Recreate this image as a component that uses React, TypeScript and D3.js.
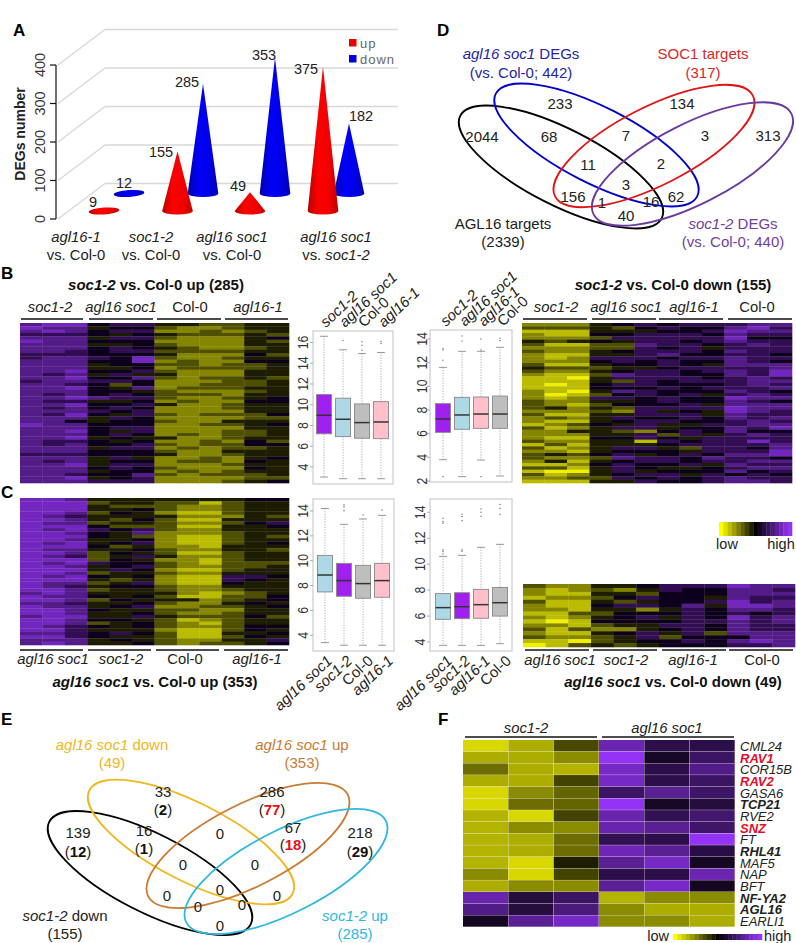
import React from "react";
import * as d3 from "d3";

// ---------- Panel A data
const degCategories = ["agl16-1", "soc1-2", "agl16 soc1", "agl16 soc1"];
const degUp = [9, 155, 49, 375];
const degDown = [12, 285, 353, 182];
const degAxisTicks = [0, 100, 200, 300, 400];

// ---------- Boxplot data: [low whisker, q1, median, q3, high whisker]
const box1Names = ["soc1-2", "agl16 soc1", "Col-0", "agl16-1"];
const box1Stats = [[3.03, 7.2, 8.99, 10.98, 16.6], [2.87, 6.93, 8.6, 10.63, 15.3], [2.87, 6.77, 8.28, 10.08, 14.94], [2.87, 6.73, 8.34, 10.3, 15.04]];
const box1Out = [[], [16.2], [16.07, 15.74, 15.26], [16.1, 15.9]];
const box1Ticks = [4, 6, 8, 10, 12, 14, 16];

const box2Names = ["soc1-2", "agl16 soc1", "agl16-1", "Col-0"];
const box2Stats = [[3.8, 6.11, 7.24, 8.54, 11.6], [2.37, 6.37, 7.58, 9.07, 12.96], [3.77, 6.45, 7.66, 9.1, 12.96], [2.42, 6.45, 7.66, 9.18, 13.3]];
const box2Out = [[13.2, 13.07, 12.2, 2.37], [14.25, 13.83], [14, 13.07, 2.37], [14.06, 13.86]];
const box2Ticks = [2, 4, 6, 8, 10, 12, 14];

const box3Names = ["agl16 soc1", "soc1-2", "Col-0", "agl16-1"];
const box3Stats = [[3.41, 7.49, 8.85, 10.43, 14.2], [3.2, 7.14, 8.4, 9.79, 12.93], [3.2, 6.98, 8.16, 9.63, 13.36], [3.2, 7.06, 8.4, 9.79, 13.65]];
const box3Out = [[], [14.5, 14.35, 14.03], [13.68], [14.08]];
const box3Ticks = [4, 6, 8, 10, 12, 14];

const box4Names = ["agl16 soc1", "soc1-2", "agl16-1", "Col-0"];
const box4Stats = [[3.74, 5.75, 6.65, 7.73, 10.6], [3.74, 5.8, 6.72, 7.8, 10.68], [3.74, 5.83, 6.88, 8.06, 11.3], [3.87, 6, 7.03, 8.2, 11.53]];
const box4Out = [[13.54, 13.28, 13.15, 11.1, 10.97, 10.79], [13.85, 13.67, 13.36, 11.1, 11], [14.26, 14, 13.7], [14.6, 14.3, 13.85]];
const box4Ticks = [4, 6, 8, 10, 12, 14];

// ---------- Heatmaps: each digit is one cell, 0 = low (yellow), 9 = high (purple)
const heatBUp = [
  "788566443344", "877455322344", "787566223234", "666545433343", "777466322245", "877555222243",
  "777445322244", "777565432234", "776566333344", "666555422253", "677658322344", "777558232255",
  "777455332334", "777445233334", "778556322244", "767464422244", "778557323343", "677665222334",
  "776535223334", "778547233344", "777554322234", "767565333244", "778766322345", "766445232255",
  "778556422344", "767565222344", "777656222244", "768546323335", "777465222233", "775455322444",
  "877555223345", "777566222244", "778546222334", "777565232334", "778454422344", "766545223253",
  "767556323355", "777466232334", "777555322444", "666555422344", "777464223245", "767455233254",
  "778466222344", "777565322254", "777455232344", "776557323334", "778456222233", "777666222345"
];
const heatBDown = [
  "222456566677", "333435655786", "111444556877", "211556665766", "222366666855", "434546656766",
  "311337665676", "222336564666", "322456665766", "211446755665", "212666566766", "222565655765",
  "311455654777", "433344566667", "322456656768", "211376655768", "110466665676", "111436566677",
  "101566555676", "111555656667", "210476555765", "201356564676", "212665655877", "322445655765",
  "321355564777", "342436666877", "222326454876", "311446664766", "232465565767", "211456655676",
  "123546446677", "312466455768", "224432565755", "222446364676", "211556546666", "322441656686",
  "131444566667", "312466436657", "221455546668", "343564565778", "322376657665", "241456656677",
  "112565564766", "331465445677", "100464555756", "312456646565", "223365656766", "111446556776"
];
const heatCUp = [
  "887444444455", "888344331344", "888433322344", "888445322344", "887354211344", "876444422243",
  "887435311444", "877344322356", "888533311445", "878656322444", "887547222344", "888543211343",
  "887445211344", "878456211345", "888534221444", "877445322443", "887354311344", "876346422344",
  "888354221344", "878655321333", "887456322334", "888465211344", "887344322444", "878545211665",
  "888434211654", "877346211544", "876455322444", "887344322344", "787444421234", "877545311335",
  "887354442345", "776445322454", "877456223345", "887544332244", "887445322344", "788446433353",
  "887554312344", "887345321344", "876545322355", "886444211354", "776565311445", "886544311354",
  "777454322446", "787445323345"
];
const heatCDown = [
  "322445666877", "212324655776", "211443555777", "122356554766", "311434556867", "211566574887",
  "221442465776", "113355565656", "212456465867", "101555566767", "221344665766", "313224565766",
  "211456463777", "322346355577", "110345565787", "013434555667"
];

// ---------- Panel F data
const fGenes = ["CML24", "RAV1", "COR15B", "RAV2", "GASA6", "TCP21", "RVE2", "SNZ", "FT", "RHL41", "MAF5", "NAP", "BFT", "NF-YA2", "AGL16", "EARLI1"];
const fRed = ["RAV1", "RAV2", "SNZ"];
const fBold = ["TCP21", "RHL41", "NF-YA2", "AGL16"];
const fValues = [
  [-.9, -.72, -.3, .72, .3, .3], [-.72, -.72, -.58, 1, .15, .4], [-.45, -.72, -.75, .8, .3, .55], [-.72, -.72, -.28, .8, .3, .4],
  [-.9, -.58, -.42, .4, .6, .42], [-.9, -.45, -.42, 1, .15, .25], [-.75, -.9, -.28, .7, .33, .45], [-.75, -.58, -.58, .7, .6, .42],
  [-.75, -.72, -.45, .33, .3, 1], [-.75, -.72, -.45, .75, .6, .28], [-.75, -.9, -.12, .6, .8, .15], [-.58, -.9, -.28, .3, .3, .72],
  [-.72, -.58, -.58, .6, .8, .14], [.7, .25, .4, -.75, -.58, -.58], [.55, .25, .5, -.58, -.72, -.72], [.14, .6, .8, -.58, -.58, -.72]
];

// ---------- Venn data
const vennDCounts = ["2044", "233", "68", "134", "7", "3", "313", "11", "2", "3", "156", "1", "16", "62", "40"];
const vennDPos = [[482, 137], [560, 104], [549, 137], [682, 104], [626, 136], [705, 136], [768, 136], [588, 165], [661, 164], [626, 185], [573, 197], [602, 203], [651, 202], [676, 197], [626, 216]];
const vennEPairs = [["139", "12", false], ["33", "2", false], ["16", "1", false], ["286", "77", true], ["67", "18", true], ["218", "29", false]];
const vennEPairPos = [[78, 833, 852], [163, 792, 810], [144, 831, 849], [272, 792, 810], [293, 828, 845], [360, 833, 852]];
const vennEZeros = [0, 0, 0, 0, 0, 0, 0, 0, 0];
const vennEZeroPos = [[220, 834], [183, 865], [255, 865], [220, 890], [167, 896], [277, 896], [198, 907], [242, 905], [220, 926]];

const FONT = "'Liberation Sans', Arial, sans-serif";
const BOXFILL: Record<string, string> = { "soc1-2": "#a020f0", "agl16 soc1": "#add8e6", "Col-0": "#bebebe", "agl16-1": "#ffc0cb" };

const heatColor = d3.scaleLinear<string>().domain([-1, 0, 1]).range(["#f0f000", "#000000", "#9433f5"]);
const barColor = d3.scaleLinear<string>().domain([-1, 0, 1]).range(["#ffff00", "#000000", "#9433f5"]);

function Heat({ rows, x0, x1, y0, y1 }: { rows: string[]; x0: number; x1: number; y0: number; y1: number }) {
  const cx = d3.scaleBand<number>().domain(d3.range(12)).range([x0, x1]);
  const cy = d3.scaleBand<number>().domain(d3.range(rows.length)).range([y0, y1]);
  return (
    <g filter="url(#soft)">
      {rows.map((r, i) =>
        r.split("").map((c, j) => (
          <rect key={i + "-" + j} x={cx(j)} y={cy(i)} width={cx.bandwidth() + 0.3} height={cy.bandwidth() + 0.3} fill={heatColor((+c - 4.5) / 4.5)} />
        ))
      )}
    </g>
  );
}

function T({ x, y, children, size = 15, anchor = "middle", color = "#222", weight, italic, rot }: any) {
  return (
    <text x={x} y={y} fontSize={size} textAnchor={anchor} fill={color} fontWeight={weight} fontStyle={italic ? "italic" : undefined}
      transform={rot ? `rotate(${rot} ${x} ${y})` : undefined} dominantBaseline="alphabetic">
      {children}
    </text>
  );
}

function Groups({ labels, spans, lineY, textY, centers }: { labels: string[]; spans: number[][]; lineY: number; textY: number; centers: number[] }) {
  return (
    <g>
      {labels.map((l, i) => (
        <g key={i}>
          <line x1={spans[i][0]} x2={spans[i][1]} y1={lineY} y2={lineY} stroke="#111" strokeWidth={1.6} />
          <T x={centers[i]} y={textY} size={14.8} italic={l !== "Col-0"}>{l}</T>
        </g>
      ))}
    </g>
  );
}

function Box({ names, stats, out, ticks, frame, domain, range, xs, tickX, labelPts, top }: any) {
  const y = d3.scaleLinear().domain(domain).range(range);
  return (
    <g>
      <rect x={frame[0]} y={frame[1]} width={frame[2] - frame[0]} height={frame[3] - frame[1]} fill="none" stroke="#c8ccd0" strokeWidth={1.2} />
      {ticks.map((t: number) => (
        <g key={t}>
          <line x1={frame[0] - 3} x2={frame[0]} y1={y(t)} y2={y(t)} stroke="#aaa" />
          <g transform={`translate(${tickX + 5},${y(t)}) rotate(-90) scale(0.82,1)`}>
            <text x={0} y={0} fontSize={15} textAnchor="middle" fill="#333">{t}</text>
          </g>
        </g>
      ))}
      {stats.map((s: number[], i: number) => {
        const x = xs[i];
        return (
          <g key={i}>
            <line x1={x} x2={x} y1={y(s[4])} y2={y(s[3])} stroke="#999" strokeDasharray="1.2 1.4" strokeWidth={0.8} />
            <line x1={x} x2={x} y1={y(s[1])} y2={y(s[0])} stroke="#999" strokeDasharray="1.2 1.4" strokeWidth={0.8} />
            <line x1={x - 4} x2={x + 4} y1={y(s[4])} y2={y(s[4])} stroke="#999" />
            <line x1={x - 4} x2={x + 4} y1={y(s[0])} y2={y(s[0])} stroke="#999" />
            <rect x={x - 7.5} y={y(s[3])} width={15} height={y(s[1]) - y(s[3])} fill={BOXFILL[names[i]]} stroke="#888" strokeWidth={0.9} />
            <line x1={x - 7.5} x2={x + 7.5} y1={y(s[2])} y2={y(s[2])} stroke="#333" strokeWidth={1.5} />
            {out[i].map((o: number, k: number) => <circle key={k} cx={x} cy={y(o)} r={0.8} fill="#888" />)}
          </g>
        );
      })}
      {names.map((n: string, i: number) => (
        <T key={n} x={labelPts[i][0]} y={labelPts[i][1]} size={15} anchor={top ? "start" : "end"} rot={-43} italic={n !== "Col-0"}>{n}</T>
      ))}
    </g>
  );
}

function PanelA() {
  const y = d3.scaleLinear().domain([0, 400]).range([219, 65]);
  const h = (v: number) => y(0) - y(v);
  const rx = 15.3, ry = 3.4;
  const catCx = [76, 151, 232, 336];
  const upCx = [104, 177.5, 250, 323];
  const downCx = [129, 203, 275, 349];
  const cone = (cx: number, base: number, v: number, grad: string, key: string, flat: boolean) =>
    flat ? (
      <ellipse key={key} cx={cx} cy={base} rx={rx} ry={ry} fill={grad} transform={`rotate(-4 ${cx} ${base})`} />
    ) : (
      <path key={key} fill={grad}
        d={`M${cx - rx},${base} A${rx},${ry} 0 0 0 ${cx + rx},${base} L${cx},${base - h(v)} Z`} />
    );
  const upBase = 211, downBase = 193.5;
  return (
    <g>
      {degAxisTicks.map((t) => (
        <g key={t}>
          <line x1={58} y1={y(t)} x2={105} y2={y(t) - 35.5} stroke="#d8d8d8" strokeWidth={1.4} />
          <line x1={105} y1={y(t) - 35.5} x2={398} y2={y(t) - 35.5} stroke="#d8d8d8" strokeWidth={1.4} />
          <line x1={50} x2={56} y1={y(t)} y2={y(t)} stroke="#111" strokeWidth={1.2} />
          <g transform={`translate(45,${y(t)}) rotate(-90)`}>
            <text fontSize={14.5} textAnchor="middle" fill="#333">{t}</text>
          </g>
        </g>
      ))}
      <line x1={56} x2={56} y1={65} y2={219} stroke="#111" strokeWidth={1.2} />
      <g transform="translate(25,134) rotate(-90)">
        <text fontSize={14} fontWeight="bold" textAnchor="middle" fill="#222">DEGs number</text>
      </g>
      {degDown.map((v, i) => cone(downCx[i], downBase, v, "url(#blueG)", "d" + i, v < 20))}
      {degUp.map((v, i) => cone(upCx[i], upBase, v, "url(#redG)", "u" + i, v < 20))}
      {degUp.map((v, i) => {
        const lp = [[93, 207], [161, 157], [238, 191], [306, 74]][i];
        return <T key={i} x={lp[0]} y={lp[1]} size={14.5}>{v}</T>;
      })}
      {degDown.map((v, i) => {
        const lp = [[124, 188], [187, 87], [264, 60], [361, 121]][i];
        return <T key={i} x={lp[0]} y={lp[1]} size={14.5}>{v}</T>;
      })}
      {degCategories.map((c, i) => (
        <g key={i}>
          <T x={catCx[i]} y={242} size={14.8} italic>{c}</T>
          {i < 3 ? <T x={catCx[i]} y={260} size={14.8}>vs. Col-0</T> : (
            <text x={catCx[i]} y={260} fontSize={14.8} textAnchor="middle" fill="#222">vs. <tspan fontStyle="italic">soc1-2</tspan></text>
          )}
        </g>
      ))}
      <rect x={349} y={39} width={7.5} height={7.5} fill="#ee0000" />
      <rect x={349} y={55} width={7.5} height={7.5} fill="#0000dd" />
      <T x={360} y={48} size={13} anchor="start" color="#666"><tspan letterSpacing={1}>up</tspan></T>
      <T x={360} y={64} size={13} anchor="start" color="#666"><tspan letterSpacing={1}>down</tspan></T>
    </g>
  );
}

const Ell = ({ cx, cy, a, b, rot, color }: any) => (
  <ellipse cx={cx} cy={cy} rx={a} ry={b} transform={`rotate(${rot} ${cx} ${cy})`} fill="none" stroke={color} strokeWidth={1.8} />
);

function PanelD() {
  const blue = "#2525a5", red = "#d42828", purple = "#6f3f9f";
  return (
    <g>
      <Ell cx={561} cy={167} a={113} b={38} rot={27} color="#000" />
      <Ell cx={596.5} cy={145} a={113} b={38} rot={27} color="#0000cc" />
      <Ell cx={654} cy={146} a={111} b={39} rot={-27} color="#e01515" />
      <Ell cx={692.5} cy={164} a={111} b={40} rot={-27} color="#6a3a9c" />
      {vennDCounts.map((c, i) => <T key={i} x={vennDPos[i][0]} y={vennDPos[i][1] + 5}>{c}</T>)}
      <text x={521} y={59} fontSize={15} textAnchor="middle" fill={blue}><tspan fontStyle="italic">agl16 soc1</tspan> DEGs</text>
      <T x={521} y={78} color={blue}>(vs. Col-0; 442)</T>
      <T x={703} y={59} color={red}>SOC1 targets</T>
      <T x={703} y={78} color={red}>(317)</T>
      <T x={503} y={229}>AGL16 targets</T>
      <T x={503} y={247}>(2339)</T>
      <text x={733} y={229} fontSize={15} textAnchor="middle" fill={purple}><tspan fontStyle="italic">soc1-2</tspan> DEGs</text>
      <T x={733} y={247} color={purple}>(vs. Col-0; 440)</T>
    </g>
  );
}

function PanelE() {
  const yellow = "#efb71e", orange = "#c97c32", cyan = "#2fb8de";
  return (
    <g>
      <Ell cx={150} cy={873} a={113} b={39} rot={27} color="#000" />
      <Ell cx={191} cy={842} a={114} b={39} rot={27} color={yellow} />
      <Ell cx={248} cy={845.5} a={112} b={41} rot={-27} color={orange} />
      <Ell cx={286} cy={871.5} a={112} b={41} rot={-27} color={cyan} />
      {vennEPairs.map((p, i) => {
        const pos = vennEPairPos[i];
        return (
          <g key={i}>
            <T x={pos[0]} y={pos[1] + 5}>{p[0]}</T>
            <text x={pos[0]} y={pos[2] + 5} fontSize={15} textAnchor="middle" fill="#222">
              (<tspan fontWeight="bold" fill={p[2] ? "#e01020" : "#111"}>{p[1]}</tspan>)
            </text>
          </g>
        );
      })}
      {vennEZeros.map((z, i) => <T key={i} x={vennEZeroPos[i][0]} y={vennEZeroPos[i][1] + 5}>{z}</T>)}
      <text x={112} y={750} fontSize={15} textAnchor="middle" fill={yellow}><tspan fontStyle="italic">agl16 soc1</tspan> down</text>
      <T x={112} y={768} color={yellow}>(49)</T>
      <text x={302} y={750} fontSize={15} textAnchor="middle" fill={orange}><tspan fontStyle="italic">agl16 soc1</tspan> up</text>
      <T x={302} y={768} color={orange}>(353)</T>
      <text x={65} y={921} fontSize={15} textAnchor="middle" fill="#222"><tspan fontStyle="italic">soc1-2</tspan> down</text>
      <T x={65} y={939}>(155)</T>
      <text x={355} y={921} fontSize={15} textAnchor="middle" fill={cyan}><tspan fontStyle="italic">soc1-2</tspan> up</text>
      <T x={355} y={939} color={cyan}>(285)</T>
    </g>
  );
}

function PanelF() {
  const cx = d3.scaleBand<number>().domain(d3.range(6)).range([463, 735]);
  const cy = d3.scaleBand<number>().domain(d3.range(fGenes.length)).range([740, 927]);
  const stops = d3.range(-1, 1.001, 0.1);
  const barX = d3.scaleBand<number>().domain(stops).range([673, 762]);
  return (
    <g>
      <Groups labels={["soc1-2", "agl16 soc1"]} spans={[[465, 597], [602, 734]]} lineY={737} textY={733} centers={[526, 667]} />
      {fValues.map((row, i) => row.map((v, j) => (
        <rect key={i + "-" + j} x={cx(j)} y={cy(i)} width={cx.bandwidth() - 0.3} height={cy.bandwidth() - 0.3} fill={heatColor(v)} />
      )))}
      {fGenes.map((g, i) => {
        const red = fRed.includes(g);
        const bold = red || fBold.includes(g);
        return <T key={g} x={740} y={cy(i)! + cy.bandwidth() / 2 + 5} size={13} anchor="start" italic weight={bold ? "bold" : undefined} color={red ? "#e0102a" : "#222"}>{g}</T>;
      })}
      <T x={669} y={941} size={14.5} anchor="end">low</T>
      {stops.map((s) => <rect key={s} x={barX(s)} y={934} width={barX.bandwidth() + 0.3} height={6} fill={barColor(s)} />)}
      <T x={764} y={941} size={14.5} anchor="start">high</T>
    </g>
  );
}

export default function App() {
  const legendStops = d3.range(-1, 1.001, 0.125);
  const lx = d3.scaleBand<number>().domain(legendStops).range([719, 792]);
  return (
    <svg width={796} height={943} viewBox="0 0 796 943" style={{ position: "absolute", left: 0, top: 0, background: "#fff" }} fontFamily={FONT}>
      <defs>
        <linearGradient id="redG" x1="0" x2="1" y1="0" y2="0">
          <stop offset="0" stopColor="#b80000" /><stop offset="0.35" stopColor="#ff0000" /><stop offset="0.7" stopColor="#f00000" /><stop offset="1" stopColor="#c00000" />
        </linearGradient>
        <linearGradient id="blueG" x1="0" x2="1" y1="0" y2="0">
          <stop offset="0" stopColor="#0000a8" /><stop offset="0.35" stopColor="#0000f8" /><stop offset="0.7" stopColor="#0000e8" /><stop offset="1" stopColor="#0000b0" />
        </linearGradient>
        <filter id="soft" x="0" y="0" width="1" height="1"><feGaussianBlur stdDeviation="0.35" /></filter>
      </defs>

      <T x={13} y={36} size={17} anchor="start" weight="bold" color="#000">A</T>
      <T x={437} y={36} size={17} anchor="start" weight="bold" color="#000">D</T>
      <T x={1} y={279} size={17} anchor="start" weight="bold" color="#000">B</T>
      <T x={1} y={498} size={17} anchor="start" weight="bold" color="#000">C</T>
      <T x={1} y={725} size={17} anchor="start" weight="bold" color="#000">E</T>
      <T x={438} y={725} size={17} anchor="start" weight="bold" color="#000">F</T>

      <PanelA />
      <PanelD />

      {/* Panel B */}
      <text x={156} y={290} fontSize={15} fontWeight="bold" textAnchor="middle" fill="#111"><tspan fontStyle="italic">soc1-2</tspan> vs. Col-0 up (285)</text>
      <Groups labels={["soc1-2", "agl16 soc1", "Col-0", "agl16-1"]} spans={[[21, 83], [89, 153], [157, 221], [225, 288]]} lineY={319} textY={312} centers={[50, 121, 190, 258]} />
      <Heat rows={heatBUp} x0={20} x1={289} y0={323} y1={483} />
      <text x={673} y={290} fontSize={15} fontWeight="bold" textAnchor="middle" fill="#111"><tspan fontStyle="italic">soc1-2</tspan> vs. Col-0 down (155)</text>
      <Groups labels={["soc1-2", "agl16 soc1", "agl16-1", "Col-0"]} spans={[[523, 587], [592, 656], [659, 723], [728, 792]]} lineY={319} textY={312} centers={[556, 626, 694, 757]} />
      <Heat rows={heatBDown} x0={522} x1={792} y0={323} y1={483} />

      <Box names={box1Names} stats={box1Stats} out={box1Out} ticks={box1Ticks} frame={[313, 331, 393, 484]} domain={[4, 16]} range={[467, 342.5]} xs={[324, 343, 362, 381]} tickX={303} top labelPts={[[326, 328], [345, 328], [364, 328], [384, 328]]} />
      <Box names={box2Names} stats={box2Stats} out={box2Out} ticks={box2Ticks} frame={[430, 330, 512, 482]} domain={[2, 14]} range={[481, 339]} xs={[443, 462, 481, 500]} tickX={422} top labelPts={[[446, 327], [465, 327], [484, 327], [503, 327]]} />

      {/* Panel C */}
      <Heat rows={heatCUp} x0={20} x1={289} y0={498} y1={645} />
      <Groups labels={["agl16 soc1", "soc1-2", "Col-0", "agl16-1"]} spans={[[20, 83], [88, 151], [156, 219], [224, 288]]} lineY={650} textY={664} centers={[53, 121, 185, 257]} />
      <text x={155} y={687} fontSize={15} fontWeight="bold" textAnchor="middle" fill="#111"><tspan fontStyle="italic">agl16 soc1</tspan> vs. Col-0 up (353)</text>

      <Box names={box3Names} stats={box3Stats} out={box3Out} ticks={box3Ticks} frame={[313, 499, 394, 651]} domain={[4, 14]} range={[635.3, 511]} xs={[325, 344, 363, 382]} tickX={303} labelPts={[[333, 662], [353, 662], [374, 662], [394, 662]]} />
      <Box names={box4Names} stats={box4Stats} out={box4Out} ticks={box4Ticks} frame={[430, 499, 512, 651]} domain={[4, 14]} range={[642, 512.3]} xs={[443, 462, 481, 500]} tickX={420} labelPts={[[453, 662], [471, 662], [491, 662], [512, 662]]} />

      <Heat rows={heatCDown} x0={523} x1={795} y0={584} y1={647} />
      <Groups labels={["agl16 soc1", "soc1-2", "agl16-1", "Col-0"]} spans={[[525, 589], [593, 657], [662, 726], [729, 793]]} lineY={650} textY={665} centers={[560, 626, 693, 762]} />
      <text x={673} y={687} fontSize={15} fontWeight="bold" textAnchor="middle" fill="#111"><tspan fontStyle="italic">agl16 soc1</tspan> vs. Col-0 down (49)</text>

      {legendStops.map((s) => <rect key={s} x={lx(s)} y={522} width={lx.bandwidth() + 0.3} height={14} fill={barColor(s)} />)}
      <T x={727} y={549} size={14.5}>low</T>
      <T x={781} y={549} size={14.5}>high</T>

      <PanelE />
      <PanelF />
    </svg>
  );
}
